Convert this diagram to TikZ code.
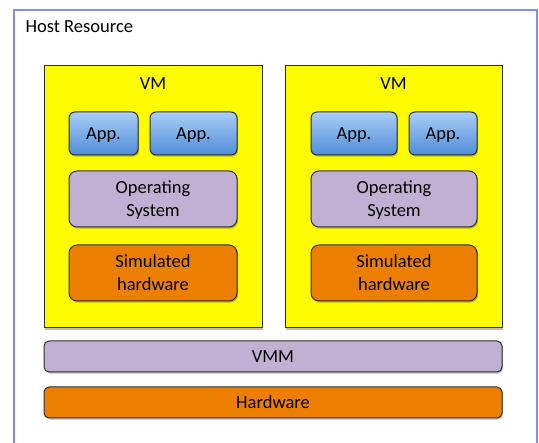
\documentclass[tikz,border=0pt]{standalone}
\usepackage{fontspec}
\setmainfont{Carlito}
\usepackage{tikz}
\usetikzlibrary{shadows}

\definecolor{vmyellow}{HTML}{FFFB00}
\definecolor{applight}{HTML}{A9CDF7}
\definecolor{appdark}{HTML}{4E8ED8}
\definecolor{oslilac}{HTML}{C0B1D4}
\definecolor{hworange}{HTML}{EC7F00}
\definecolor{hostblue}{HTML}{7D90F2}
\definecolor{edge}{HTML}{2E2E2E}

\begin{document}
\begin{tikzpicture}[x=1pt,y=-1pt,
        font=\fontsize{18.5}{23}\selectfont,
        layer/.style={draw=edge,line width=1pt,inner sep=0pt,align=center,text depth=0pt,
                drop shadow={shadow xshift=1.2pt,shadow yshift=-1.6pt,fill=black,opacity=0.25}},
        vmbox/.style={layer,fill=vmyellow,minimum width=218pt,minimum height=262pt},
        appbox/.style={layer,rounded corners=6pt,top color=applight,bottom color=appdark,minimum height=43pt},
        osbox/.style={layer,rounded corners=8pt,fill=oslilac,minimum width=168pt,minimum height=56pt},
        simbox/.style={layer,rounded corners=8pt,fill=hworange,minimum width=168pt,minimum height=56pt},
        barbox/.style={layer,rounded corners=5pt,minimum width=458pt,minimum height=31pt}]
                              % Frame
                              \useasboundingbox (0,0) rectangle (539,443);
                              \fill[white] (0,0) rectangle (539,443);
                              \draw[hostblue,line width=1.5pt] (14,443) -- (14,10) -- (537,10) -- (537,443);
                              \node[anchor=base west] (host) at (22,32.5) {Host Resource};

                              % Virtual machines
                              \node[vmbox] (vm1) at (153,197) {};
                              \node[vmbox,minimum width=217pt] (vm2) at (393.5,197) {};
                              \node (vm1label) at (153,83.5) {VM};
                              \node (vm2label) at (393.5,83.5) {VM};

                              % Applications
                              \node[appbox,minimum width=69pt] (app1a) at (103.5,133.5) {App.};
                              \node[appbox,minimum width=87pt] (app1b) at (193.5,133.5) {App.};
                              \node[appbox,minimum width=86pt] (app2a) at (354,133.5) {App.};
                              \node[appbox,minimum width=68pt] (app2b) at (443,133.5) {App.};

                              % Guest software
                              \node[osbox] (os1) at (153,199) {Operating\\System};
                              \node[osbox,minimum width=166pt] (os2) at (394,199) {Operating\\System};
                              \node[simbox] (sim1) at (153,273) {Simulated\\hardware};
                              \node[simbox,minimum width=166pt] (sim2) at (394,273) {Simulated\\hardware};

                              % Host layers
                              \node[barbox,fill=oslilac] (vmm) at (273,356.5) {VMM};
                              \node[barbox,fill=hworange] (hw) at (273,402.5) {Hardware};
                        \end{tikzpicture}
\end{document}
